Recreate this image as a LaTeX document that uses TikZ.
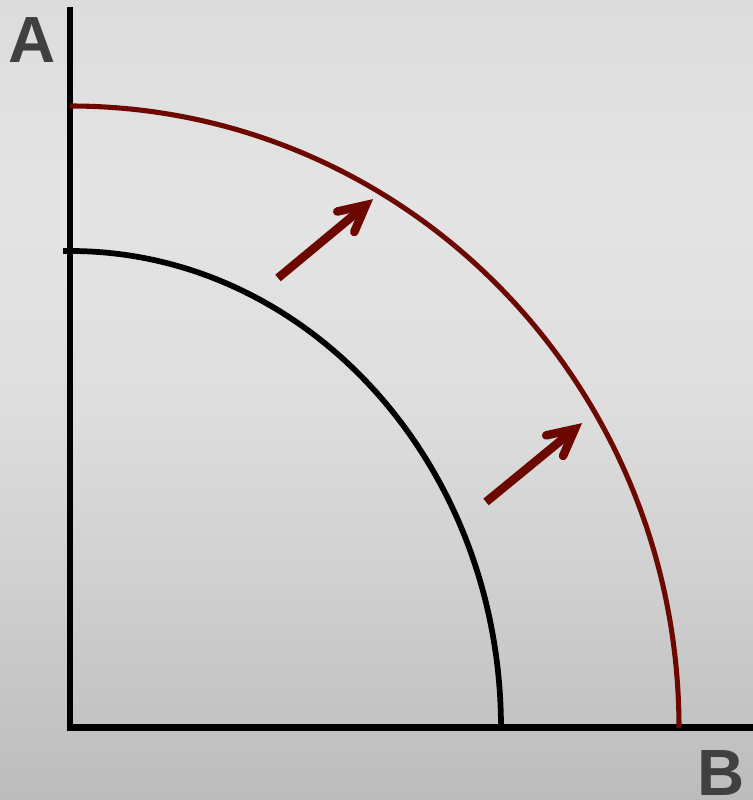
\documentclass[tikz,border=0pt]{standalone}
\usepackage{fontspec}
\setmainfont{Liberation Sans}
\usetikzlibrary{calc}
\definecolor{curvered}{RGB}{108,8,0}
\definecolor{labelgray}{RGB}{64,64,64}
\definecolor{bgA}{RGB}{188,188,188}
\definecolor{bgB}{RGB}{206,206,206}
\definecolor{bgC}{RGB}{222,222,222}
\definecolor{bgD}{RGB}{228,228,228}
\definecolor{bgE}{RGB}{220,220,220}
\pgfdeclareverticalshading{bgshade}{100bp}{color(0bp)=(bgA); color(25bp)=(bgA); color(37.5bp)=(bgB); color(50bp)=(bgC); color(62.5bp)=(bgD); color(75bp)=(bgE); color(100bp)=(bgE)}
\tikzset{
  axisline/.style={line width=4.9pt, black},
  oldcurve/.style={line width=4.3pt, black},
  newcurve/.style={line width=3.8pt, curvered},
  shiftshaft/.style={line width=6.4pt, curvered, line cap=butt},
  shifthead/.style={line width=6.4pt, curvered, line cap=round, line join=miter},
  axislabel/.style={font=\fontsize{49}{49}\selectfont\bfseries, text=labelgray, inner sep=0pt, anchor=base}
}
\begin{document}
\begin{tikzpicture}[x=0.75pt,y=0.75pt]
\useasboundingbox (0,0) rectangle (753,800);
\shade[shading=bgshade] (0,0) rectangle (753,800);
% axes
\coordinate (otop) at (70,793);
\coordinate (origin) at (70,72.5);
\coordinate (oright) at (753,72.5);
\draw[axisline] (otop) -- (70,69.2);
\draw[axisline] (67,72.5) -- (oright);
% curves
\coordinate (oldstart) at (63,549);
\draw[oldcurve] (oldstart) -- (70,549) arc[start angle=90, end angle=0, x radius=431, y radius=477];
\coordinate (newstart) at (70,694);
\draw[newcurve] (newstart) arc[start angle=90, end angle=0, x radius=609, y radius=622];
% arrows
\coordinate (a1s) at (278,522);
\coordinate (a1e) at (372,600);
\coordinate (a2s) at (486,298);
\coordinate (a2e) at (581,376);
\foreach \s/\e in {a1s/a1e, a2s/a2e}{
  \coordinate (v) at ($(\e)!6pt!(\s)$);
  \draw[shiftshaft] (\s) -- ($(\e)!9pt!(\s)$);
  \draw[shifthead] ($(v)!22pt!-27:(\s)$) -- (v) -- ($(v)!22pt!27:(\s)$);
}
% labels
\node[axislabel] (lblA) at (32,737) {A};
\node[axislabel] (lblB) at (721,4) {B};
\end{tikzpicture}
\end{document}
